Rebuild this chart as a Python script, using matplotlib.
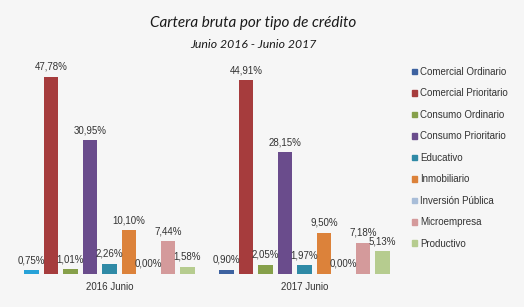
import matplotlib
matplotlib.use("Agg")
import matplotlib.pyplot as plt
from matplotlib import font_manager
from matplotlib.patches import Patch

# data
periods = ["2016 Junio", "2017 Junio"]
tipos = [
    "Comercial Ordinario",
    "Comercial Prioritario",
    "Consumo Ordinario",
    "Consumo Prioritario",
    "Educativo",
    "Inmobiliario",
    "Inversión Pública",
    "Microempresa",
    "Productivo",
]
pct_2016 = [0.75, 47.78, 1.01, 30.95, 2.26, 10.10, 0.00, 7.44, 1.58]
pct_2017 = [0.90, 44.91, 2.05, 28.15, 1.97, 9.50, 0.00, 7.18, 5.13]

colors = ["#3d62a0", "#a63c3d", "#86a04a", "#6a4c8c", "#2f8aa6",
          "#dc823a", "#a8bdd8", "#d49a9b", "#b6cc8f"]
BG = "#f6f6f6"
TXT = "#333333"


def arial_like(size):
    """Liberation Sans regular by file, so the Narrow cut is never picked."""
    for f in font_manager.findSystemFonts():
        if f.endswith("LiberationSans-Regular.ttf"):
            return font_manager.FontProperties(fname=f, size=size)
    return font_manager.FontProperties(family="DejaVu Sans", size=size)


fp = arial_like(7)

W, H = 524, 307
fig = plt.figure(figsize=(W / 100, H / 100), dpi=100, facecolor=BG)
ax = fig.add_axes([12 / W, 33.5 / H, 390 / W, 196.8 / H], facecolor=BG)

n = len(tipos)
step = n + 1  # one empty slot between the two groups
series = [pct_2016, pct_2017]
bars = []
for j, (name, col) in enumerate(zip(tipos, colors)):
    xs = [g * step + j for g in range(len(periods))]
    vals = [s[j] for s in series]
    b = ax.bar(xs, vals, width=0.74, color=col, label=name, zorder=2)
    bars.append(b)
    for x, v in zip(xs, vals):
        ax.annotate(f"{v:.2f}%".replace(".", ","), (x, min(v, 45.7)),
                    xytext=(0, 3.5), textcoords="offset points",
                    ha="center", va="bottom", fontproperties=fp, color=TXT,
                    annotation_clip=False)

# the 2016 "Comercial Ordinario" bar is drawn in a lighter blue
bars[0].patches[0].set_facecolor("#27a2d8")

ax.set_xlim(-1, step * len(periods) - 1)
ax.set_ylim(0, 45.7)
ax.set_yticks([])
ax.set_xticks([g * step + (n - 1) / 2 for g in range(len(periods))])
ax.set_xticklabels(periods, fontproperties=fp, color=TXT)
ax.tick_params(axis="x", length=0, pad=6)
for sp in ax.spines.values():
    sp.set_visible(False)

fig.text(253 / W, 1 - 23 / H, "Cartera bruta por tipo de crédito",
         ha="center", va="center", fontsize=11, style="italic",
         family="Lato", color="#1a1a1a")
fig.text(253 / W, 1 - 44 / H, "Junio 2016 - Junio 2017",
         ha="center", va="center", fontsize=8.8, style="italic",
         family="Lato", color="#1a1a1a")

handles = [Patch(color=c) for c in colors]
leg = fig.legend(handles=handles, labels=tipos, loc="upper left",
                 bbox_to_anchor=(408 / W, 1 - 63 / H), frameon=False,
                 prop=fp, handlelength=0.5, handleheight=0.5,
                 handletextpad=0.35, labelspacing=1.18, borderaxespad=0)
for t in leg.get_texts():
    t.set_color(TXT)

fig.savefig("out.png", dpi=100, facecolor=BG)
